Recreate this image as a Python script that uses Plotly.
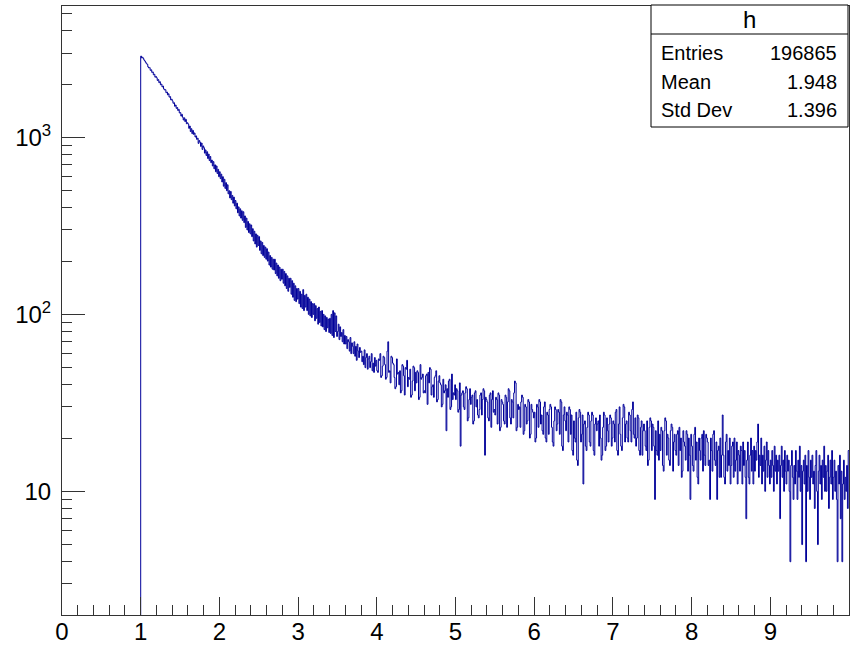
import numpy as np
import plotly.graph_objects as go

# ---------------- data ----------------
hist_name = "h"
n_entries = "196865"
mean_text = "1.948"
std_text = "1.396"

bin_width = 0.01
first_bin_low = 1.00

# bin contents, 10 bins (0.1 in x) per row, from x = 1.00 to x = 9.99
counts = [
    2880, 2815, 2840, 2790, 2735, 2700, 2655, 2610, 2590, 2505,
    2470, 2480, 2395, 2410, 2330, 2345, 2260, 2275, 2190, 2210,
    2175, 2100, 2120, 2040, 2065, 1985, 2000, 1930, 1950, 1880,
    1855, 1860, 1790, 1805, 1740, 1765, 1690, 1700, 1630, 1645,
    1610, 1560, 1570, 1500, 1525, 1460, 1475, 1420, 1440, 1375,
    1380, 1320, 1350, 1300, 1255, 1290, 1230, 1265, 1195, 1210,
    1190, 1125, 1160, 1080, 1120, 1050, 1095, 1040, 1060, 1005,
    1020, 975, 990, 925, 960, 940, 890, 930, 855, 895,
    875, 815, 850, 790, 830, 760, 805, 740, 780, 720,
    745, 690, 730, 665, 700, 640, 690, 625, 660, 600,
    640, 585, 620, 560, 600, 530, 580, 515, 555, 500,
    540, 480, 500, 455, 495, 445, 470, 425, 460, 410,
    440, 395, 425, 375, 405, 360, 395, 350, 385, 340,
    380, 330, 360, 310, 350, 300, 335, 290, 325, 285,
    320, 275, 305, 260, 295, 250, 285, 240, 280, 245,
    275, 230, 260, 220, 255, 215, 245, 210, 240, 205,
    235, 200, 225, 190, 215, 185, 210, 180, 205, 178,
    205, 170, 195, 165, 190, 160, 185, 155, 180, 158,
    180, 150, 175, 145, 170, 140, 165, 135, 160, 142,
    160, 130, 155, 125, 150, 120, 145, 118, 140, 122,
    140, 115, 135, 110, 130, 108, 138, 105, 128, 110,
    130, 105, 125, 100, 122, 98, 118, 96, 115, 100,
    115, 92, 112, 95, 108, 88, 110, 90, 104, 86,
    105, 85, 100, 82, 98, 80, 96, 84, 94, 79,
    95, 78, 100, 76, 105, 74, 102, 80, 98, 75,
    80, 88, 72, 85, 75, 79, 70, 82, 68, 76,
    68, 75, 64, 72, 70, 62, 74, 60, 69, 66,
    60, 70, 58, 66, 55, 68, 62, 57, 65, 61,
    62, 54, 58, 52, 63, 50, 57, 60, 49, 56,
    58, 50, 54, 60, 48, 53, 47, 57, 51, 55,
    48, 47, 56, 55, 60, 44, 45, 51, 58, 57,
    52, 43, 44, 62, 70, 47, 48, 41, 58, 57,
    53, 52, 44, 38, 39, 56, 46, 47, 40, 48,
    36, 37, 52, 51, 45, 35, 50, 49, 55, 39,
    44, 43, 49, 34, 35, 42, 51, 50, 37, 47,
    41, 48, 47, 33, 34, 52, 43, 44, 46, 36,
    37, 36, 45, 46, 31, 47, 41, 50, 49, 35,
    39, 40, 34, 44, 45, 48, 32, 33, 42, 45,
    41, 40, 30, 31, 43, 36, 37, 40, 22, 38,
    34, 42, 43, 29, 30, 46, 33, 36, 35, 40,
    33, 38, 37, 28, 29, 41, 18, 35, 36, 37,
    30, 29, 36, 39, 38, 25, 26, 33, 38, 31,
    34, 35, 24, 25, 36, 37, 30, 33, 27, 26,
    29, 35, 36, 27, 33, 38, 37, 16, 34, 33,
    32, 26, 25, 35, 36, 23, 33, 37, 28, 29,
    27, 34, 33, 24, 36, 35, 22, 23, 33, 32,
    31, 25, 24, 35, 34, 23, 32, 38, 37, 26,
    24, 33, 32, 26, 36, 42, 41, 22, 23, 31,
    29, 30, 23, 32, 35, 34, 21, 22, 31, 30,
    24, 25, 33, 32, 20, 21, 31, 29, 28, 26,
    28, 19, 20, 31, 30, 23, 33, 32, 24, 27,
    22, 21, 30, 32, 20, 19, 28, 27, 21, 29,
    31, 30, 23, 19, 18, 25, 30, 29, 22, 24,
    29, 28, 21, 33, 32, 18, 17, 27, 30, 25,
    22, 28, 27, 19, 30, 29, 21, 27, 17, 16,
    25, 20, 19, 28, 15, 14, 26, 29, 28, 19,
    21, 27, 11, 24, 25, 18, 17, 23, 28, 27,
    19, 18, 25, 28, 27, 17, 16, 24, 26, 22,
    24, 25, 18, 27, 20, 15, 16, 23, 28, 27,
    17, 18, 26, 22, 19, 24, 27, 26, 18, 20,
    25, 24, 19, 28, 29, 17, 16, 24, 30, 21,
    18, 17, 26, 31, 30, 19, 24, 25, 20, 19,
    28, 27, 22, 19, 29, 32, 21, 20, 26, 18,
    20, 27, 26, 17, 16, 23, 25, 16, 22, 24,
    22, 18, 17, 25, 14, 15, 23, 26, 25, 17,
    24, 23, 18, 9, 22, 17, 16, 25, 15, 21,
    17, 23, 22, 14, 13, 22, 26, 25, 16, 21,
    20, 15, 14, 22, 24, 23, 13, 19, 21, 17,
    16, 21, 22, 14, 23, 17, 20, 12, 13, 22,
    19, 18, 15, 22, 21, 13, 20, 16, 9, 21,
    18, 14, 13, 21, 23, 15, 19, 12, 11, 20,
    17, 15, 20, 21, 13, 22, 16, 14, 21, 20,
    19, 14, 15, 9, 20, 17, 13, 21, 22, 15,
    14, 19, 9, 17, 18, 12, 20, 12, 16, 27,
    16, 12, 11, 19, 21, 13, 17, 14, 20, 11,
    14, 18, 19, 12, 20, 13, 15, 19, 11, 17,
    16, 13, 18, 17, 11, 19, 14, 17, 12, 7,
    15, 19, 12, 11, 16, 20, 13, 17, 11, 18,
    13, 17, 15, 19, 24, 12, 16, 14, 20, 11,
    16, 13, 18, 10, 15, 19, 12, 17, 14, 11,
    15, 12, 17, 14, 10, 18, 13, 16, 11, 15,
    13, 16, 7, 14, 18, 12, 15, 10, 17, 13,
    11, 16, 13, 15, 10, 4, 14, 17, 12, 9,
    14, 11, 17, 13, 9, 15, 12, 18, 10, 14,
    5, 13, 15, 11, 16, 4, 14, 10, 17, 12,
    9, 15, 12, 16, 11, 13, 8, 14, 17, 10,
    5, 13, 16, 11, 14, 9, 15, 12, 18, 10,
    14, 10, 13, 16, 8, 12, 15, 11, 17, 9,
    12, 15, 10, 13, 9, 4, 14, 11, 16, 7,
    13, 4, 11, 15, 9, 12, 10, 14, 8, 17,
]

x_range = [0, 10]
y_range = [2.0, 5530.0]
x_tick_vals = [0, 1, 2, 3, 4, 5, 6, 7, 8, 9]
x_tick_text = ["0", "1", "2", "3", "4", "5", "6", "7", "8", "9"]
y_tick_vals = [10, 100, 1000]
y_tick_text = ["10", "10<sup>2</sup>", "10<sup>3</sup>"]
y_minor_vals = [m * d for d in (1, 10, 100, 1000) for m in range(2, 10)]

stats_labels = ["Entries", "Mean", "Std Dev"]
stats_values = [n_entries, mean_text, std_text]

# ---------------- step outline like ROOT's histogram drawing ----------------
counts_arr = np.array(counts, dtype=float)
low_edges = first_bin_low + np.arange(len(counts_arr)) * bin_width
x_step = np.concatenate([[low_edges[0]], low_edges, [low_edges[-1] + bin_width]])
y_step = np.concatenate([[y_range[0] / 10.0], counts_arr, [counts_arr[-1]]])

FONT = "Liberation Sans, Arial, Helvetica, sans-serif"
LINE_COLOR = "#000099"
AXIS_COLOR = "#333333"

fig = go.Figure()
fig.add_trace(go.Scatter(
    x=x_step, y=y_step, mode="lines",
    line=dict(color=LINE_COLOR, width=1, shape="hv"),
    hoverinfo="skip", showlegend=False,
))

W, H = 858, 646
ml, mr, mt, mb = 62, 9, 6, 31
pw, ph = W - ml - mr, H - mt - mb


def px_x(p):
    return (p - ml) / pw


def px_y(p):
    return 1 - (p - mt) / ph


fig.update_layout(
    width=W, height=H,
    margin=dict(l=ml, r=mr, t=mt, b=mb, pad=0, autoexpand=False),
    paper_bgcolor="white", plot_bgcolor="white",
    showlegend=False,
    font=dict(family=FONT, color="black"),
    xaxis=dict(
        range=x_range, tickmode="array", tickvals=x_tick_vals, ticktext=x_tick_text,
        ticks="inside", ticklen=18, tickwidth=1, tickcolor=AXIS_COLOR,
        showline=True, mirror=True, linecolor=AXIS_COLOR, linewidth=1,
        showgrid=False, zeroline=False, automargin=False,
        tickfont=dict(size=24, family=FONT, color="black"),
        ticklabelstandoff=-5,
        minor=dict(ticks="inside", ticklen=10, tickwidth=1, tickcolor=AXIS_COLOR,
                   dtick=0.2, tick0=0, showgrid=False),
    ),
    yaxis=dict(
        type="log", range=[np.log10(y_range[0]), np.log10(y_range[1])],
        tickmode="array", tickvals=y_tick_vals, ticktext=y_tick_text,
        ticks="inside", ticklen=23, tickwidth=1, tickcolor=AXIS_COLOR,
        showline=True, mirror=True, linecolor=AXIS_COLOR, linewidth=1,
        showgrid=False, zeroline=False, automargin=False,
        tickfont=dict(size=24, family=FONT, color="black"),
        ticklabelstandoff=5,
        minor=dict(ticks="inside", ticklen=10, tickwidth=1, tickcolor=AXIS_COLOR,
                   tickmode="array", tickvals=y_minor_vals, showgrid=False),
    ),
)

# ---------------- statistics box ----------------
box_l, box_r, box_t, box_b, box_sep = 651, 848, 5, 127, 34
fig.add_shape(type="rect", xref="paper", yref="paper",
              x0=px_x(box_l), x1=px_x(box_r), y0=px_y(box_b), y1=px_y(box_t),
              line=dict(color="black", width=1), fillcolor="white", layer="above")
fig.add_shape(type="line", xref="paper", yref="paper",
              x0=px_x(box_l), x1=px_x(box_r), y0=px_y(box_sep), y1=px_y(box_sep),
              line=dict(color="black", width=1), layer="above")
fig.add_annotation(xref="paper", yref="paper", x=px_x((box_l + box_r) / 2), y=px_y(20),
                   text=hist_name, showarrow=False, xanchor="center", yanchor="middle",
                   font=dict(size=24, family=FONT, color="black"))
row_y = [53, 82, 110]
for lab, val, ry in zip(stats_labels, stats_values, row_y):
    fig.add_annotation(xref="paper", yref="paper", x=px_x(659), y=px_y(ry),
                       text=lab, showarrow=False, xanchor="left", yanchor="middle",
                       font=dict(size=20, family=FONT, color="black"))
    fig.add_annotation(xref="paper", yref="paper", x=px_x(839), y=px_y(ry),
                       text=val, showarrow=False, xanchor="right", yanchor="middle",
                       font=dict(size=20, family=FONT, color="black"))

fig.write_html("out.html")
